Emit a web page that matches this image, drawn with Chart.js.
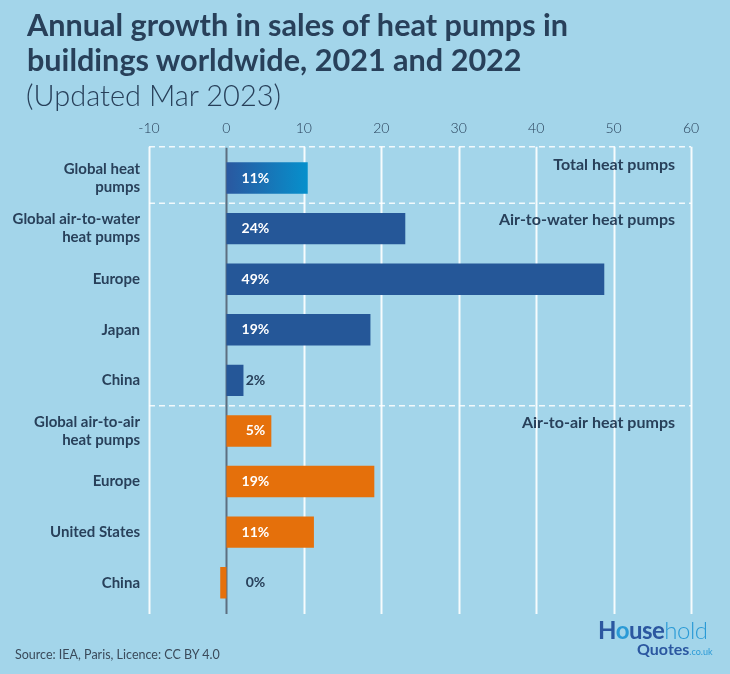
<!DOCTYPE html>
<html>
<head>
<meta charset="utf-8">
<script src="https://cdn.jsdelivr.net/npm/chart.js@4.4.1/dist/chart.umd.min.js"></script>
<style>
  body { margin: 0; background: #a3d5ea; font-family: Lato, "Noto Sans", sans-serif; }
  #wrap { position: relative; width: 730px; height: 674px; overflow: hidden; }
  #chart { position: absolute; left: 0; top: 0; }
  .title { position: absolute; left: 27px; top: 7px; font-size: 30.6px; font-weight: 700; color: #28405a; line-height: 35px; }
  .sub { position: absolute; left: 26px; top: 77px; font-size: 29px; font-weight: 300; color: #28405a; }
  .source { position: absolute; left: 15px; top: 647px; font-size: 12.5px; color: #3a4a5a; font-weight: 400; }
  .logo { position: absolute; left: 598px; top: 617px; color: #2b57a0; line-height: 18px; }
  .logo .l1 { font-size: 24px; font-weight: 700; letter-spacing: -0.5px; line-height: 26px; }
  .logo .l1 .lt { font-weight: 300; color: #2a9ad6; }
  .logo .l1 .o { color: #2a9ad6; }
  .logo .l2 { font-size: 16px; font-weight: 700; padding-left: 39px; margin-top: -3px; }
  .logo .l2 span { font-size: 9px; font-weight: 400; color: #2a9ad6; }
</style>
</head>
<body>
<div id="wrap">
  <canvas id="chart" width="730" height="674"></canvas>
  <div class="title">Annual growth in sales of heat pumps in<br>buildings worldwide, 2021 and 2022</div>
  <div class="sub">(Updated Mar 2023)</div>
  <div class="source">Source: IEA, Paris, Licence: CC BY 4.0</div>
  <div class="logo"><div class="l1">H<span class="o">o</span>use<span class="lt">hold</span></div><div class="l2">Quotes<span>.co.uk</span></div></div>
</div>
<script>
// data
const categories = [
  ['Global heat', 'pumps'],
  ['Global air-to-water', 'heat pumps'],
  'Europe',
  'Japan',
  'China',
  ['Global air-to-air', 'heat pumps'],
  'Europe',
  'United States',
  'China'
];
const growth = [10.5, 23.1, 48.8, 18.6, 2.2, 5.8, 19.1, 11.3, -0.8];
const growthLabels = ['11%', '24%', '49%', '19%', '2%', '5%', '19%', '11%', '0%'];
const sectionNames = ['Total heat pumps', 'Air-to-water heat pumps', 'Air-to-air heat pumps'];
const sectionStart = [0, 1, 5];
const xTicks = [-10, 0, 10, 20, 30, 40, 50, 60];

const navy = '#28405a';
const blue = '#255798';
const orange = '#e5700b';

function barColor(ctx) {
  const i = ctx.dataIndex;
  if (i >= 5) return orange;
  if (i === 0) {
    const chart = ctx.chart;
    const xs = chart.scales.x;
    if (!xs || !chart.chartArea) return blue;
    const x0 = xs.getPixelForValue(0), x1 = xs.getPixelForValue(growth[0]);
    if (!isFinite(x0) || !isFinite(x1)) return blue;
    const g = chart.ctx.createLinearGradient(x0, 0, x1, 0);
    g.addColorStop(0, '#2a58a0');
    g.addColorStop(1, '#0690cc');
    return g;
  }
  return blue;
}

// vertical grid lines, zero line, section separators and titles, bar labels
const decorations = {
  id: 'decorations',
  beforeDatasetsDraw(chart) {
    const c = chart.ctx, xs = chart.scales.x, ys = chart.scales.y, a = chart.chartArea;
    const top = a.top - 6, bottom = a.bottom + 6;
    c.save();
    xTicks.forEach(v => {
      const x = Math.round(xs.getPixelForValue(v)) + 0.5;
      c.beginPath();
      c.strokeStyle = v === 0 ? '#5d6f80' : 'rgba(255,255,255,0.9)';
      c.lineWidth = 2;
      c.moveTo(x, v === 0 ? top + 1 : top);
      c.lineTo(x, bottom);
      c.stroke();
    });
    c.strokeStyle = 'rgba(255,255,255,0.85)';
    c.lineWidth = 1.5;
    sectionStart.forEach((s, k) => {
      let y;
      if (s === 0) y = top;
      else y = (ys.getPixelForValue(s - 1) + ys.getPixelForValue(s)) / 2;
      c.setLineDash([6, 4]);
      c.beginPath();
      c.moveTo(xs.getPixelForValue(-10), y);
      c.lineTo(xs.getPixelForValue(60), y);
      c.stroke();
      c.setLineDash([]);
      c.fillStyle = navy;
      c.font = 'bold 16px Lato';
      c.textAlign = 'right';
      c.textBaseline = 'middle';
      c.fillText(sectionNames[k], 675, y + (s === 0 ? 18 : 17));
    });
    c.restore();
  },
  afterDatasetsDraw(chart) {
    const c = chart.ctx, xs = chart.scales.x;
    const meta = chart.getDatasetMeta(0);
    c.save();
    c.font = 'bold 14px Lato';
    c.textAlign = 'center';
    c.textBaseline = 'middle';
    meta.data.forEach((bar, i) => {
      c.fillStyle = growth[i] > 4 ? '#ffffff' : navy;
      c.fillText(growthLabels[i], xs.getPixelForValue(0) + 29, bar.y);
    });
    c.restore();
  }
};

new Chart(document.getElementById('chart'), {
  type: 'bar',
  data: {
    labels: categories,
    datasets: [{
      data: growth,
      backgroundColor: barColor,
      borderWidth: 0,
      barPercentage: 0.62,
      categoryPercentage: 1
    }]
  },
  options: {
    indexAxis: 'y',
    responsive: false,
    animation: false,
    layout: { padding: { top: 110, bottom: 66, left: 0, right: 39 } },
    plugins: { legend: { display: false }, tooltip: { enabled: false } },
    scales: {
      x: {
        position: 'top',
        min: -10,
        max: 60,
        afterFit: s => { s.height = 42.75; },
        afterBuildTicks: s => { s.ticks = xTicks.map(v => ({ value: v })); },
        grid: { display: false },
        border: { display: false },
        ticks: { color: navy, font: { family: 'Lato', size: 14, weight: 300 }, padding: 8 }
      },
      y: {
        afterFit: s => { s.width = 149; },
        grid: { display: false },
        border: { display: false },
        ticks: { color: navy, font: { family: 'Lato', size: 15, weight: 'bold' }, padding: 1 }
      }
    }
  },
  plugins: [decorations]
});
</script>
</body>
</html>
